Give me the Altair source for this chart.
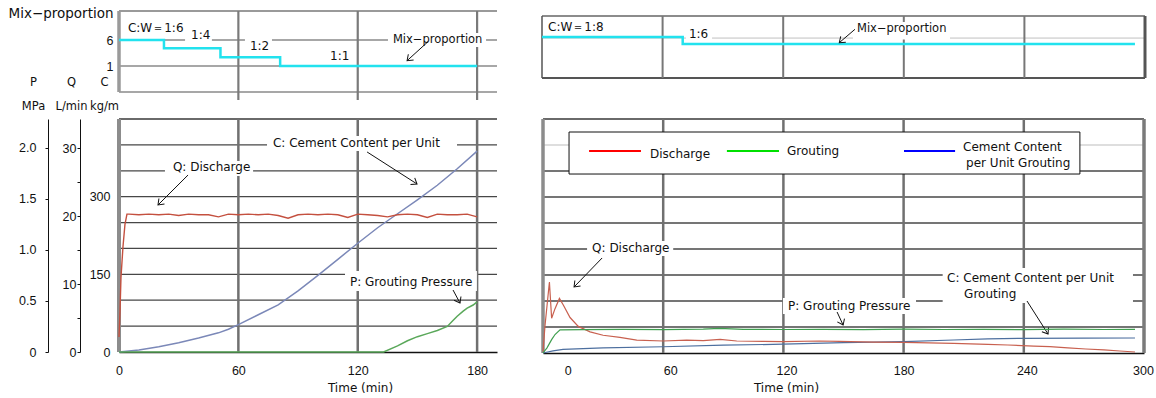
import altair as alt
import pandas as pd

TXT_FONT = "DejaVu Sans"
NUM_FONT = "Liberation Sans"
INK = "#111111"
ARROW_PATH = "M-1,-0.75L0,0L-1,0.75"

# ---------------- values ----------------
# ---- left test (C:W 1:6 -> 1:1) ----
L_MIX_T = [0, 22.6, 51, 81, 180]
L_MIX_V = [6, 4.4, 2.7, 1.0, 1.0]
L_MIX_TICKS = [1, 6]
L_MIX_GRID = [-4, 1, 6]

L_Q_T = [0, 0.5, 1, 2, 3, 4, 5, 10, 15, 20, 25, 30, 35, 40, 45, 50, 55, 60, 65, 70, 75,
         80, 85, 90, 95, 100, 105, 110, 115, 120, 125, 130, 135, 140, 145, 150, 155, 160,
         165, 170, 175, 180]
L_Q_V = [2.2, 6, 11, 15.5, 18.8, 20.3, 20.3, 20.2, 20.3, 20.2, 20.3, 20.1, 20.3, 20.2,
         20.2, 19.9, 20.3, 20.2, 20.3, 20.2, 20.3, 20.1, 19.7, 20.2, 20.3, 20.2, 20.3, 20.2,
         19.8, 20.3, 20.2, 20.1, 19.9, 20.2, 20.3, 20.2, 19.8, 20.3, 20.2, 20.2, 20.3, 19.9]

L_C_T = [0, 10, 20, 30, 40, 50, 55, 60, 70, 80, 90, 100, 110, 120, 130, 140, 150, 160, 170, 180]
L_C_V = [0, 4, 10, 18, 27, 37, 44, 53, 72, 91, 118, 148, 179, 210, 240, 267, 294, 322, 354, 388]

L_P_T = [0, 133, 140, 145, 150, 155, 160, 165, 168, 170, 173, 175, 178, 180]
L_P_V = [0, 0, 0.06, 0.11, 0.15, 0.18, 0.21, 0.25, 0.31, 0.35, 0.40, 0.43, 0.46, 0.49]

L_TIME_TICKS = [0, 60, 120, 180]
L_GRID_T = [60, 120, 180]
L_GRID_C = [50, 100, 150, 200, 250, 300, 350, 400]
C_TICKS = [0, 150, 300]
Q_TICKS = [0, 5, 10, 15, 20, 25, 30]
P_TICKS = [0, 0.5, 1.0, 1.5, 2.0]

# ---- right test (C:W 1:8 -> 1:6) ----
R_MIX_T = [0, 70, 295]
R_MIX_V = [8, 6, 6]
R_MIX_GRID = [7.7]

R_Q_T = [0, 1, 3.2, 4.3, 6, 8.2, 10.2, 13.5, 17.6, 23.5, 30, 38.4, 46.8, 60, 71.7, 80, 88.4,
         96.7, 110, 120, 138, 148, 165, 180, 205, 222, 232, 245, 253, 262, 271, 280, 288, 295.5]
R_Q_V = [0.2, 4, 10.4, 5.1, 6.5, 8.0, 7.0, 5.2, 3.9, 3.1, 2.6, 2.3, 1.9, 1.76, 1.9, 1.8, 2.0,
         1.76, 1.7, 1.66, 1.76, 1.7, 1.6, 1.56, 1.42, 1.25, 1.17, 1.0, 0.93, 0.75, 0.59, 0.45,
         0.29, 0.15]

R_P_T = [0, 2, 4.3, 6, 8.5, 20, 40, 60, 80, 88, 100, 120, 140, 160, 180, 200, 220, 240, 260,
         280, 295.5]
R_P_V = [0.0, 0.05, 0.13, 0.18, 0.225, 0.228, 0.23, 0.228, 0.232, 0.24, 0.23, 0.229, 0.231,
         0.228, 0.232, 0.229, 0.231, 0.228, 0.232, 0.229, 0.23]

R_C_T = [0, 5, 10, 30, 60, 90, 120, 150, 180, 205, 222, 240, 270, 295.5]
R_C_V = [0, 4, 7, 10, 12, 15, 17, 20, 22, 25, 27, 28.2, 28.6, 28.8]

R_GRID_T = [60, 120, 180, 240]
R_GRID_C = [50, 100, 150, 200, 250, 300, 350]
R_GRID_C_LIGHT = [400]
R_TIME_TICK_POS = [12.4, 63.5, 121.5, 180, 241.5, 299.5]

# ---- annotations (data units of each panel) ----
LT_TEXT = [(4.5, 8.31, "C:W＝1:6"), (36.2, 6.96, "1:4"), (65.8, 4.88, "1:2"), (106.1, 2.92, "1:1")]
LT_TEXT_SMALL = [(137.7, 6.0, "Mix−proportion")]
LT_BOX = [(33.2, 46.7, 7.92, 5.42), (63.3, 76.9, 6.38, 3.69), (135.2, 184.5, 7.35, 4.65)]
LT_ARROW = [(155.3, 5.67, 144.8, 2.02, 137.9)]

LB_TEXT = [(27.1, 357.3, "Q: Discharge"), (77.4, 403.6, "C: Cement Content per Unit"),
           (116.1, 135.2, "P: Grouting Pressure")]
LB_BOX = [(23.1, 67.4, 368.9, 340), (74.4, 169.9, 417.2, 388.2), (113.6, 179.9, 156.4, 117.8)]
LB_ARROW = [(34.7, 341.8, 19.6, 283.9, 135), (124.7, 386.3, 149.8, 324.5, 32.6),
            (167.9, 119.7, 171.4, 94.6, 61.7)]

RT_TEXT = [(3.0, 10.94, "C:W＝1:8"), (73.1, 8.86, "1:6")]
RT_TEXT_SMALL = [(156.7, 10.37, "Mix−proportion")]
RT_BOX = [(71.6, 84.6, 10.57, 6.57), (154.7, 203, 12.29, 7.29)]
RT_ARROW = [(155.7, 10.2, 147.9, 6.37, 139.5)]

RB_TEXT = [(24.5, 201.9, "Q: Discharge"), (122.3, 90.4, "P: Grouting Pressure"),
           (201.7, 144.2, "C: Cement Content per Unit"), (210.2, 113.5, "Grouting")]
RB_BOX = [(22, 65, 215.4, 186.5), (119.8, 186.2, 105.8, 75), (199.5, 294.5, 163.5, 96.2)]
RB_ARROW = [(29.5, 182.7, 15.5, 126.9, 134), (146.8, 78.8, 149.8, 53.8, 65.2),
            (241.6, 100, 252.1, 36.5, 57.5)]

LEGEND_BOX = [(13, 268, 425, 344.2)]
LEGEND_NAMES = ["Discharge", "Grouting", "Cement Content per Unit Grouting"]
LEGEND_COLORS = ["#ff0000", "#00e000", "#0000ff"]
LEGEND_SWATCH = [(23, 48.9, 388.4, 388.4), (91.8, 117.8, 388.4, 388.4), (180.2, 205.7, 388.4, 388.4)]
LEGEND_TEXT = [(53.4, 382.7, "Discharge"), (121.8, 388.4, "Grouting"),
               (209.7, 396.1, "Cement Content"), (211.2, 365.4, "per Unit Grouting")]

# ---------------- scales ----------------
def sc(domain, rng):
    return alt.Scale(domain=domain, range=rng, nice=False, zero=False)

LX = sc([0, 190], [119, 497])
LT_Y = sc([-4, 11.58], [92, 11])
LB_C = sc([0, 450], [352, 119])
LB_Q = sc([0, 34.3], [352, 119])
LB_P = sc([0, 2.28], [352, 119])
RXT = sc([0, 300], [542, 1145])
RXB = sc([0, 300], [543, 1144])
RT_Y = sc([-3.71, 14], [78, 16])
RB_C = sc([0, 450], [353, 119])
RB_Q = sc([0, 34.3], [353, 119])
RB_P = sc([0, 2.28], [353, 119])


def lay(*charts):
    return alt.layer(*charts).resolve_axis(x="independent", y="independent")


# ---------------- helpers ----------------
def segs(rows, xs, ys, color, width, opacity=1.0):
    df = pd.DataFrame(rows, columns=["x", "x2", "y", "y2"])
    return alt.Chart(df).mark_rule(color=color, strokeWidth=width, opacity=opacity).encode(
        x=alt.X("x:Q", scale=xs, axis=None), x2="x2:Q",
        y=alt.Y("y:Q", scale=ys, axis=None), y2="y2:Q")


def boxes(rows, xs, ys, **kw):
    df = pd.DataFrame(rows, columns=["x", "x2", "y", "y2"])
    return alt.Chart(df).mark_rect(fill="white", **kw).encode(
        x=alt.X("x:Q", scale=xs, axis=None), x2="x2:Q",
        y=alt.Y("y:Q", scale=ys, axis=None), y2="y2:Q")


def texts(rows, xs, ys, size=12):
    df = pd.DataFrame(rows, columns=["x", "y", "label"])
    return alt.Chart(df).mark_text(align="left", baseline="middle", font=TXT_FONT,
                                   fontSize=size, color=INK).encode(
        x=alt.X("x:Q", scale=xs, axis=None), y=alt.Y("y:Q", scale=ys, axis=None),
        text="label:N")


def arrows(rows, xs, ys):
    df = pd.DataFrame(rows, columns=["x", "y", "x2", "y2", "ang"])
    shaft = alt.Chart(df).mark_rule(color=INK, strokeWidth=1).encode(
        x=alt.X("x:Q", scale=xs, axis=None), y=alt.Y("y:Q", scale=ys, axis=None),
        x2="x2:Q", y2="y2:Q")
    head = alt.Chart(df).mark_point(shape=ARROW_PATH, filled=False, color=INK,
                                    strokeWidth=1, size=110, opacity=1).encode(
        x=alt.X("x2:Q", scale=xs, axis=None), y=alt.Y("y2:Q", scale=ys, axis=None),
        angle=alt.Angle("ang:Q", scale=None))
    return lay(shaft, head)


def line(t, v, xs, ys, color, width, xaxis=None, yaxis=None, interp="linear", opacity=1.0):
    df = pd.DataFrame({"t": t, "v": v})
    return alt.Chart(df).mark_line(color=color, strokeWidth=width, interpolate=interp,
                                   opacity=opacity).encode(
        x=alt.X("t:Q", scale=xs, axis=xaxis), y=alt.Y("v:Q", scale=ys, axis=yaxis))


AX_COMMON = dict(grid=False, labelFlush=False, labelOverlap=False, labelColor=INK,
                 titleColor=INK, titleFontWeight="normal")

LT_YAXIS = alt.Axis(orient="left", offset=-119, values=L_MIX_TICKS, domain=False, ticks=False,
                    tickSize=0, labelPadding=6, labelFont=NUM_FONT, labelFontSize=12.5,
                    title="Mix−proportion", titleFont=TXT_FONT, titleFontSize=13.5, titleAngle=0,
                    titleAlign="left", titleBaseline="alphabetic", titleX=-111, titleY=17,
                    **AX_COMMON)

LB_XAXIS = alt.Axis(orient="bottom", offset=-46, values=L_TIME_TICKS, domain=True,
                    domainColor=INK, domainWidth=1.5, ticks=False, tickSize=0, labelPadding=12,
                    labelFont=NUM_FONT, labelFontSize=12.5, title="Time (min)", titleFont=TXT_FONT,
                    titleFontSize=12, titleX=360, titleY=35, titleAlign="center",
                    titleBaseline="middle", **AX_COMMON)

RB_XAXIS = alt.Axis(orient="bottom", offset=-45, values=R_TIME_TICK_POS, domain=True,
                    domainColor=INK, domainWidth=1.5, ticks=False, tickSize=0, labelPadding=11,
                    labelExpr="format(round(datum.value / 60) * 60, 'd')",
                    labelFont=NUM_FONT, labelFontSize=12.5, title="Time (min)", titleFont=TXT_FONT,
                    titleFontSize=12, titleX=786, titleY=34, titleAlign="center",
                    titleBaseline="middle", **AX_COMMON)

C_AXIS = alt.Axis(orient="left", offset=-119, values=C_TICKS, domain=False, ticks=False,
                  tickSize=0, labelPadding=9, labelFont=NUM_FONT, labelFontSize=12.5,
                  title=["C", "kg/m"], titleFont=TXT_FONT, titleFontSize=11.5, titleAngle=0,
                  titleAlign="center", titleBaseline="top", titleX=-15, titleY=76,
                  titleLineHeight=24, **AX_COMMON)

Q_AXIS = alt.Axis(orient="left", offset=-80, values=Q_TICKS, domain=True, domainColor=INK,
                  ticks=True, tickSize=3, tickColor=INK, labelPadding=1, labelFont=NUM_FONT,
                  labelFontSize=12.5, labelExpr="datum.value % 10 == 0 ? datum.label : ''",
                  title=["Q", "L/min"], titleFont=TXT_FONT, titleFontSize=11.5, titleAngle=0,
                  titleAlign="center", titleBaseline="top", titleX=-9, titleY=76,
                  titleLineHeight=24, **AX_COMMON)

P_AXIS = alt.Axis(orient="left", offset=-48, values=P_TICKS, domain=True, domainColor=INK,
                  ticks=True, tickSize=3, tickColor=INK, labelPadding=9, labelFont=NUM_FONT,
                  labelFontSize=12.5,
                  labelExpr="datum.value == 0 ? '0' : format(datum.value, '.1f')",
                  title=["P", "MPa"], titleFont=TXT_FONT, titleFontSize=11.5, titleAngle=0,
                  titleAlign="center", titleBaseline="top", titleX=-15, titleY=76,
                  titleLineHeight=24, **AX_COMMON)

# ---------------- left top: mix proportion ----------------
LT = lay(
    segs([(0, 190, 11.58, 11.58)], LX, LT_Y, "#9a9a9a", 2),
    segs([(0, 190, v, v) for v in L_MIX_GRID], LX, LT_Y, "#505050", 1.2),
    segs([(t, t, -5.54, 11.58) for t in L_GRID_T], LX, LT_Y, "#7a7a7a", 2.2),
    segs([(0, 0, -4, 11.58)], LX, LT_Y, "#9a9a9a", 3.5),
    boxes(LT_BOX, LX, LT_Y),
    line(L_MIX_T, L_MIX_V, LX, LT_Y, "#22e2ee", 2.5, yaxis=LT_YAXIS, interp="step-after"),
    texts(LT_TEXT, LX, LT_Y, 12),
    texts(LT_TEXT_SMALL, LX, LT_Y, 11.5),
    arrows(LT_ARROW, LX, LT_Y),
)

# ---------------- left bottom: Q, C, P ----------------
LB_C_PANEL = lay(
    segs([(0, 190, v, v) for v in L_GRID_C], LX, LB_C, "#474747", 1.3),
    segs([(0, 190, 450, 450)], LX, LB_C, "#6a6a6a", 2),
    segs([(t, t, 0, 450) for t in L_GRID_T], LX, LB_C, "#707070", 2.5),
    segs([(0, 0, 0, 450)], LX, LB_C, "#8c8c8c", 4),
    boxes(LB_BOX, LX, LB_C),
    line(L_C_T, L_C_V, LX, LB_C, "#7b88b8", 1.5, xaxis=LB_XAXIS, yaxis=C_AXIS),
    texts(LB_TEXT, LX, LB_C, 12),
    arrows(LB_ARROW, LX, LB_C),
)
LB = lay(
    LB_C_PANEL,
    line(L_Q_T, L_Q_V, LX, LB_Q, "#c4503f", 1.4, yaxis=Q_AXIS),
    line(L_P_T, L_P_V, LX, LB_P, "#5aa85a", 1.5, yaxis=P_AXIS),
).resolve_scale(y="independent")

# ---------------- right top: mix proportion ----------------
RT = lay(
    segs([(0, 300, v, v) for v in R_MIX_GRID], RXT, RT_Y, "#c0c0c0", 1),
    segs([(0, 300, 14, 14)], RXT, RT_Y, "#666666", 1.5),
    segs([(0, 300, -3.71, -3.71)], RXT, RT_Y, "#555555", 2),
    segs([(t, t, -3.71, 14) for t in R_GRID_T], RXT, RT_Y, "#777777", 2),
    segs([(0, 0, -3.71, 14)], RXT, RT_Y, "#555555", 1.5),
    segs([(300, 300, -3.71, 14)], RXT, RT_Y, "#555555", 3),
    boxes(RT_BOX, RXT, RT_Y),
    line(R_MIX_T, R_MIX_V, RXT, RT_Y, "#22e2ee", 2.5, interp="step-after"),
    texts(RT_TEXT, RXT, RT_Y, 12),
    texts(RT_TEXT_SMALL, RXT, RT_Y, 11.5),
    arrows(RT_ARROW, RXT, RT_Y),
)

# ---------------- right bottom ----------------
legend_lines = alt.Chart(pd.DataFrame(
    [(a, b, c, d, n) for (a, b, c, d), n in zip(LEGEND_SWATCH, LEGEND_NAMES)],
    columns=["x", "x2", "y", "y2", "name"])).mark_rule(strokeWidth=2).encode(
    x=alt.X("x:Q", scale=RXB, axis=None), x2="x2:Q",
    y=alt.Y("y:Q", scale=RB_C, axis=None), y2="y2:Q",
    color=alt.Color("name:N", scale=alt.Scale(domain=LEGEND_NAMES, range=LEGEND_COLORS),
                    legend=None))

RB_C_PANEL = lay(
    segs([(0, 300, v, v) for v in R_GRID_C], RXB, RB_C, "#474747", 1.3),
    segs([(0, 300, v, v) for v in R_GRID_C_LIGHT], RXB, RB_C, "#bdbdbd", 1),
    segs([(0, 300, 450, 450)], RXB, RB_C, "#6a6a6a", 2),
    segs([(t, t, 0, 450) for t in R_GRID_T], RXB, RB_C, "#707070", 2.5),
    segs([(0, 0, 0, 450)], RXB, RB_C, "#8c8c8c", 3.5),
    segs([(300, 300, 0, 450)], RXB, RB_C, "#7a7a7a", 3.5),
    boxes(RB_BOX, RXB, RB_C),
    boxes(LEGEND_BOX, RXB, RB_C, stroke=INK, strokeWidth=1),
    legend_lines,
    texts(LEGEND_TEXT, RXB, RB_C, 12),
    line(R_C_T, R_C_V, RXB, RB_C, "#4d6f9f", 1.2, xaxis=RB_XAXIS),
    texts(RB_TEXT, RXB, RB_C, 12),
    arrows(RB_ARROW, RXB, RB_C),
)
RB = lay(
    RB_C_PANEL,
    line(R_Q_T, R_Q_V, RXB, RB_Q, "#c8604f", 1.2),
    line(R_P_T, R_P_V, RXB, RB_P, "#3f9f4f", 1.2),
).resolve_scale(y="independent")

chart = alt.layer(LT, LB, RT, RB).resolve_scale(
    x="independent", y="independent", color="independent"
).properties(
    width=1156, height=398, padding=0, autosize=alt.AutoSizeParams(type="none")
).configure_view(strokeWidth=0)

chart.save("out.html", embed_options={"renderer": "svg", "actions": False})
